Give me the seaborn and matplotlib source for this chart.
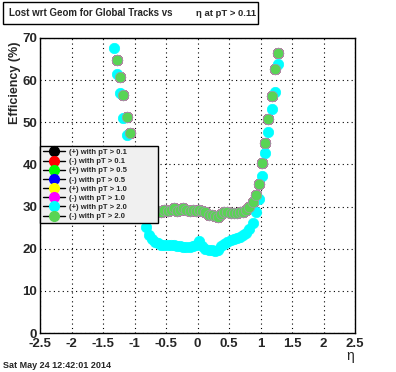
import numpy as np
import pandas as pd
import matplotlib
matplotlib.use("Agg")
import matplotlib.pyplot as plt
import seaborn as sns
from matplotlib.lines import Line2D
from matplotlib.patches import Rectangle
from matplotlib.ticker import MultipleLocator

# eta bin centres (bin width 0.05)
eta_bins = [
    -1.325, -1.275, -1.225, -1.175, -1.125, -1.075, -1.025, -0.975, -0.925,
    -0.875, -0.825, -0.775, -0.725, -0.675, -0.625, -0.575, -0.525, -0.475,
    -0.425, -0.375, -0.325, -0.275, -0.225, -0.175, -0.125, -0.075, -0.025,
    0.025, 0.075, 0.125, 0.175, 0.225, 0.275, 0.325, 0.375, 0.425,
    0.475, 0.525, 0.575, 0.625, 0.675, 0.725, 0.775, 0.825, 0.875,
    0.925, 0.975, 1.025, 1.075, 1.125, 1.175, 1.225, 1.275, 1.325,
]

# (+) with pT > 2.0  (cyan)
eff_plus_pt20 = [
    67.7, 61.4, 56.9, 51.1, 47.0, 43.0, 38.5, 34.0, 30.0,
    27.2, 25.2, 23.2, 22.2, 21.6, 21.3, 21.0, 20.9, 20.8,
    20.9, 20.9, 20.7, 20.6, 20.4, 20.5, 20.5, 20.6, 20.8,
    21.8, 20.6, 20.0, 19.7, 19.6, 19.4, 19.8, 20.6, 21.2,
    21.6, 22.0, 22.2, 22.5, 22.8, 23.3, 23.8, 24.6, 26.0,
    28.6, 31.9, 37.3, 42.8, 47.6, 53.2, 57.3, 63.8, np.nan,
]

# (-) with pT > 2.0  (light green), the lower pT curves sit right under it
eff_minus_pt20 = [
    np.nan, 64.8, 60.7, 56.5, 51.3, 47.4, 43.0, 38.5, 35.0,
    32.0, 30.0, 29.3, 29.0, 29.0, 29.0, 28.8, 29.3, 29.0,
    29.2, 29.6, 29.0, 29.3, 29.6, 29.2, 29.0, 29.2, 28.9,
    29.1, 29.0, 28.6, 28.0, 27.9, 27.7, 27.6, 28.3, 28.6,
    28.8, 28.5, 28.4, 28.4, 28.6, 28.8, 29.2, 29.8, 31.0,
    32.8, 35.3, 40.3, 45.2, 50.8, 56.3, 62.6, 66.4, np.nan,
]

labels = [
    "(+) with pT > 0.1", "(-) with pT > 0.1",
    "(+) with pT > 0.5", "(-) with pT > 0.5",
    "(+) with pT > 1.0", "(-) with pT > 1.0",
    "(+) with pT > 2.0", "(-) with pT > 2.0",
]
colors = ["#000000", "#ff0000", "#00ff00", "#0000ff",
          "#ffff00", "#ff00ff", "#00ffff", "#59d454"]
series = [eff_minus_pt20] * 6 + [eff_plus_pt20, eff_minus_pt20]

sns.set_style("white")
plt.rcParams["font.family"] = ["Liberation Sans", "DejaVu Sans"]
plt.rcParams["font.weight"] = "bold"

fig = plt.figure(figsize=(3.96, 3.72), dpi=100)
W, H = 396, 372
ax = fig.add_axes([40 / W, 39 / H, 315 / W, 295 / H])

for lab, col, vals in zip(labels, colors, series):
    df = pd.DataFrame({"eta": eta_bins, "eff": vals}).dropna()
    edge = "#a496aa" if col == "#59d454" else col
    sns.scatterplot(data=df, x="eta", y="eff", ax=ax, color=col, s=56,
                    edgecolor=edge, linewidth=0.5, zorder=3, legend=False)

ax.set_xlim(-2.5, 2.5)
ax.set_ylim(0, 70)
ax.xaxis.set_major_locator(MultipleLocator(0.5))
ax.xaxis.set_minor_locator(MultipleLocator(0.1))
ax.yaxis.set_major_locator(MultipleLocator(10))
ax.yaxis.set_minor_locator(MultipleLocator(2))
ax.xaxis.set_major_formatter(plt.FuncFormatter(lambda v, p: f"{v:g}"))
ax.yaxis.set_major_formatter(plt.FuncFormatter(lambda v, p: f"{v:g}"))
ax.tick_params(which="both", direction="in", top=False, right=False,
               color="black", width=0.8, labelsize=9.5)
ax.tick_params(which="major", length=6)
ax.tick_params(which="minor", length=3)
ax.tick_params(axis="x", pad=3.5)
ax.tick_params(axis="y", pad=2)
ax.grid(True, which="major", color="black", linestyle=(0, (1, 3)), linewidth=0.8)
ax.set_axisbelow(True)
for sp in ax.spines.values():
    sp.set_color("black")
    sp.set_linewidth(1)
ax.set_xlabel("")
ax.set_ylabel("")

handles = [Line2D([], [], color="black", lw=1, marker="o", markersize=7,
                  markerfacecolor=c, markeredgecolor=c) for c in colors]
leg = ax.legend(handles, labels, loc="lower left", mode="expand",
                bbox_to_anchor=(40 / W, 149 / H, 118 / W, 75 / H),
                bbox_transform=fig.transFigure, fontsize=5.5,
                labelspacing=0.24, borderpad=0.35, handlelength=2.9,
                handletextpad=0.6, borderaxespad=0, fancybox=False,
                framealpha=1, facecolor="#f0f0f0", edgecolor="black")
leg.get_frame().set_linewidth(1)
leg.set_zorder(10)

# title box
fig.patches.append(Rectangle((3 / W, 1 - 24 / H), 255 / W, 22 / H,
                             transform=fig.transFigure, facecolor="white",
                             edgecolor="black", linewidth=1))
fig.text(9 / W, 1 - 13 / H, "Lost wrt Geom for Global Tracks vs", fontsize=7.0,
         fontweight="bold", va="center", ha="left")
fig.text(196 / W, 1 - 13 / H, "\u03b7 at pT > 0.11", fontsize=6.8,
         fontweight="bold", va="center", ha="left")

fig.text(15 / W, 1 - 42 / H, "Efficiency (%)", rotation=90, fontsize=9,
         fontweight="bold", va="top", ha="center")
fig.text(350 / W, 1 - 356 / H, "\u03b7", fontsize=10, fontweight="normal",
         va="center", ha="center")
fig.text(3 / W, 1 - 365 / H, "Sat May 24 12:42:01 2014", fontsize=6.5,
         fontweight="bold", va="center", ha="left")

fig.savefig("out.png", dpi=100)
